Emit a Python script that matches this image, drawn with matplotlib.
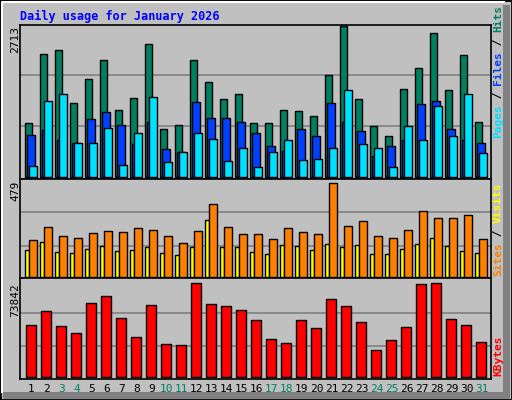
import matplotlib.pyplot as plt
from matplotlib.patches import Rectangle
from matplotlib.lines import Line2D

days = list(range(1, 32))
weekend = [3, 4, 10, 11, 17, 18, 24, 25, 31]

hits = [979, 2203, 2275, 1321, 1753, 2095, 1195, 1411, 2383, 871, 943, 2095, 1699, 1393, 1483, 979,
        979, 1195, 1177, 1105, 1825, 2713, 1393, 925, 745, 1573, 1951, 2581, 1555, 2185, 997]
files = [763, 853, 673, 619, 1051, 1159, 943, 601, 997, 511, 457, 1339, 1069, 1069, 997, 799,
         565, 475, 871, 745, 1321, 997, 835, 385, 565, 673, 1303, 1357, 871, 673, 619]
pages = [205, 1357, 1483, 619, 619, 889, 223, 799, 1429, 277, 457, 799, 691, 295, 529, 187,
         457, 673, 313, 331, 529, 1555, 601, 529, 187, 925, 673, 1267, 745, 1483, 439]
visits = [188, 251, 209, 199, 225, 235, 230, 246, 240, 209, 173, 235, 370, 251, 220, 220,
          194, 246, 230, 220, 479, 261, 282, 209, 199, 240, 334, 297, 297, 313, 194]
sites = [137, 178, 126, 121, 142, 157, 131, 137, 152, 121, 111, 152, 287, 152, 152, 126,
         116, 163, 157, 137, 168, 152, 163, 116, 116, 142, 168, 199, 157, 131, 121]
kbytes = [40694, 52013, 39886, 34226, 58481, 64140, 46354, 31801, 56864, 26141, 25333, 73842,
          57673, 56056, 52822, 44737, 30184, 26950, 44737, 38269, 61715, 56056, 43120, 21290,
          29375, 39077, 73034, 73842, 45545, 40694, 27758]

W, H = 512, 400
fig = plt.figure(figsize=(W / 100, H / 100), dpi=100, facecolor='#C0C0C0')
mono = 'DejaVu Sans Mono'

# 3d-ish outer border
fig.add_artist(Rectangle((0, 0), 1, 1, transform=fig.transFigure, fill=False, ec='black', lw=2))
fig.add_artist(Line2D([2 / W, 2 / W, 1 - 8 / W], [8 / H, 1 - 2 / H, 1 - 2 / H], transform=fig.transFigure, color='white', lw=1.5))
fig.add_artist(Line2D([1 - 6 / W, 1 - 6 / W], [6 / H, 1 - 8 / H], transform=fig.transFigure, color='#808080', lw=5))
fig.add_artist(Line2D([6 / W, 1 - 6 / W], [5 / H, 5 / H], transform=fig.transFigure, color='#808080', lw=5))


def panel(top, bottom, ymax, lo, hi, grid):
    ax = fig.add_axes([20 / W, 1 - bottom / H, 471 / W, (bottom - top) / H])
    ax.set_facecolor('#C0C0C0')
    ax.set_xlim(20, 491)
    ax.set_ylim(-lo * ymax, ymax * (1 + hi))
    for g in grid:
        ax.axhline(g * ymax, color='#808080', lw=1.2, zorder=0)
    ax.set_xticks([])
    ax.set_yticks([])
    for s in ax.spines.values():
        s.set_color('black')
        s.set_linewidth(1.2)
    return ax


def bars(ax, vals, off, w, color):
    xs = [20 + 15 * (d - 1) + off for d in days]
    ax.bar(xs, vals, width=w, align='edge', color=color, edgecolor='black', lw=1)


ax1 = panel(25, 179, max(hits), 0.012, 0.005, [0.336, 0.672])
bars(ax1, hits, 5.3, 7, '#008060')
bars(ax1, files, 7.3, 7.4, '#0040FF')
bars(ax1, pages, 9.3, 7.4, '#00E0FF')

ax2 = panel(179, 278, max(visits), 0.014, 0.04, [0.329, 0.686])
bars(ax2, sites, 5.3, 4, '#FFFF00')
bars(ax2, visits, 9.3, 7.4, '#FF8000')

ax3 = panel(278, 379, max(kbytes), 0.025, 0.058, [0.325, 0.683])
bars(ax3, kbytes, 6.3, 10, '#FF0000')

fig.text(20 / W, 1 - 16 / H, 'Daily usage for January 2026', color='#0000FF', fontsize=8.5,
         fontweight='bold', family=mono, va='center')

for top, label in [(26, '2713'), (181, '479'), (283, '73842')]:
    fig.text(15 / W, 1 - top / H, label, rotation=90, fontsize=8, family=mono, ha='center', va='top')


def side(parts, y):
    # stacked rotated labels, bottom to top
    for txt, col in parts:
        t = fig.text(498 / W, 1 - y / H, txt, rotation=90, color=col, fontsize=8, family=mono,
                     fontweight='bold', ha='center', va='bottom')
        y -= len(txt) * 6.6


side([('Pages', '#00E0FF'), (' / ', 'black'), ('Files', '#0040FF'), (' / ', 'black'), ('Hits', '#008060')], 138)
side([('Sites', '#FF8000'), (' / ', 'black'), ('Visits', '#FFFF00')], 276)
side([('KBytes', '#FF0000')], 376)

for d in days:
    fig.text((20 + 15 * (d - 1) + 11.5) / W, 1 - 389 / H, str(d), fontsize=8, family=mono,
             ha='center', va='center', color='#008060' if d in weekend else 'black')

fig.savefig('out.png', dpi=100, facecolor=fig.get_facecolor())
